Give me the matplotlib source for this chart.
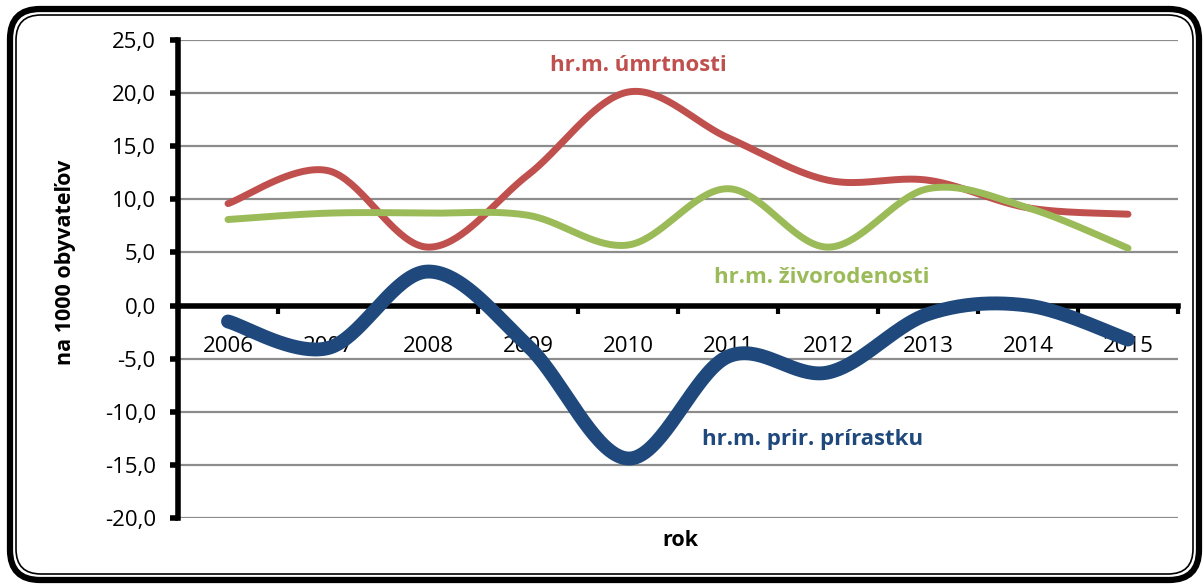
import numpy as np
import matplotlib
matplotlib.use("Agg")
import matplotlib.pyplot as plt
from matplotlib.patches import FancyBboxPatch

years = ["2006", "2007", "2008", "2009", "2010", "2011", "2012", "2013", "2014", "2015"]
umrtnost = [9.6, 12.7, 5.5, 12.3, 20.1, 15.8, 11.8, 11.8, 9.2, 8.6]
zivorodenost = [8.1, 8.7, 8.7, 8.5, 5.7, 11.0, 5.5, 11.0, 9.2, 5.4]
prirastok = [-1.5, -4.0, 3.2, -3.8, -14.4, -4.8, -6.3, -0.8, 0.0, -3.2]
yticks = [25, 20, 15, 10, 5, 0, -5, -10, -15, -20]

plt.rcParams['font.family'] = ['Open Sans', 'DejaVu Sans']

W, H = 1204, 584


def smooth(x, y, n=40):
    x = np.asarray(x, float)
    y = np.asarray(y, float)
    P = np.column_stack([x, y])
    Pe = np.vstack([P[0], P, P[-1]])
    out = []
    for i in range(len(P) - 1):
        p0, p1, p2, p3 = Pe[i], Pe[i + 1], Pe[i + 2], Pe[i + 3]
        c1 = p1 + (p2 - p0) / 6.0
        c2 = p2 - (p3 - p1) / 6.0
        t = np.linspace(0, 1, n)[:, None]
        seg = ((1 - t) ** 3) * p1 + 3 * ((1 - t) ** 2) * t * c1 + 3 * (1 - t) * t ** 2 * c2 + t ** 3 * p2
        out.append(seg if i == 0 else seg[1:])
    s = np.vstack(out)
    return s[:, 0], s[:, 1]


def rbox(x0, y0, x1, y1, r, lw, zorder):
    # pixel coordinates (top-left origin) -> figure fraction
    return FancyBboxPatch((x0 / W, 1 - y1 / H), (x1 - x0) / W, (y1 - y0) / H,
                          boxstyle=f"round,pad=0,rounding_size={r / W}",
                          mutation_aspect=W / H, transform=fig.transFigure,
                          facecolor='white' if zorder < -4 else 'none', edgecolor='black',
                          lw=lw, zorder=zorder)


fig = plt.figure(figsize=(W / 100, H / 100), dpi=100)
fig.patches.append(rbox(10, 9, 1199, 580, 30, 4.5, -5))
fig.patches.append(rbox(16, 15, 1193, 574, 25, 1.2, -4))

ax = fig.add_axes([178 / W, 1 - 518 / H, 1000 / W, 478 / H])
ax.set_facecolor('none')
x = np.arange(len(years))

for v in yticks:
    if v != 0:
        ax.axhline(v, color='#8c8c8c', lw=1.6, zorder=1)

xs, ys = smooth(x, zivorodenost)
ax.plot(xs, ys, color='#9BBB59', lw=5, solid_capstyle='round', zorder=4)
xs, ys = smooth(x, umrtnost)
ax.plot(xs, ys, color='#C0504D', lw=5, solid_capstyle='round', zorder=3)
xs, ys = smooth(x, prirastok)
ax.plot(xs, ys, color='#1F497D', lw=10, solid_capstyle='round', zorder=5)

ax.set_xlim(-0.5, 9.5)
ax.set_ylim(-20, 25)
ax.set_yticks(yticks)
ax.set_yticklabels([f"{v:.1f}".replace('.', ',') for v in yticks], fontsize=16)
ax.tick_params(axis='y', direction='out', length=6, width=4, pad=10)

ax.spines['top'].set_visible(False)
ax.spines['right'].set_visible(False)
ax.spines['left'].set_linewidth(4)
ax.spines['bottom'].set_linewidth(4)
ax.spines['bottom'].set_position(('data', 0))
ax.spines['bottom'].set_zorder(2)

ax.set_xticks(np.arange(-0.5, 10, 1.0))
ax.set_xticklabels([])
ax.tick_params(axis='x', which='major', direction='out', length=6, width=3)
ax.set_xticks(x, minor=True)
ax.set_xticklabels(years, minor=True, fontsize=16)
ax.tick_params(axis='x', which='minor', length=0, pad=22)

fig.text(66 / W, 1 - 262 / H, "na 1000 obyvateľov", rotation=90, fontsize=15.5, fontweight='bold',
         ha='center', va='center')
fig.text(680 / W, 1 - 540 / H, "rok", fontsize=15.5, fontweight='bold', ha='center', va='center')

ax.text(4.1, 22.6, "hr.m. úmrtnosti", color='#C0504D', fontsize=16, fontweight='bold',
        ha='center', va='center', zorder=6)
ax.text(5.94, 2.6, "hr.m. živorodenosti", color='#9BBB59', fontsize=16, fontweight='bold',
        ha='center', va='center', zorder=6)
ax.text(5.85, -12.6, "hr.m. prir. prírastku", color='#1F497D', fontsize=16, fontweight='bold',
        ha='center', va='center', zorder=6)

fig.savefig("out.png", dpi=100)
